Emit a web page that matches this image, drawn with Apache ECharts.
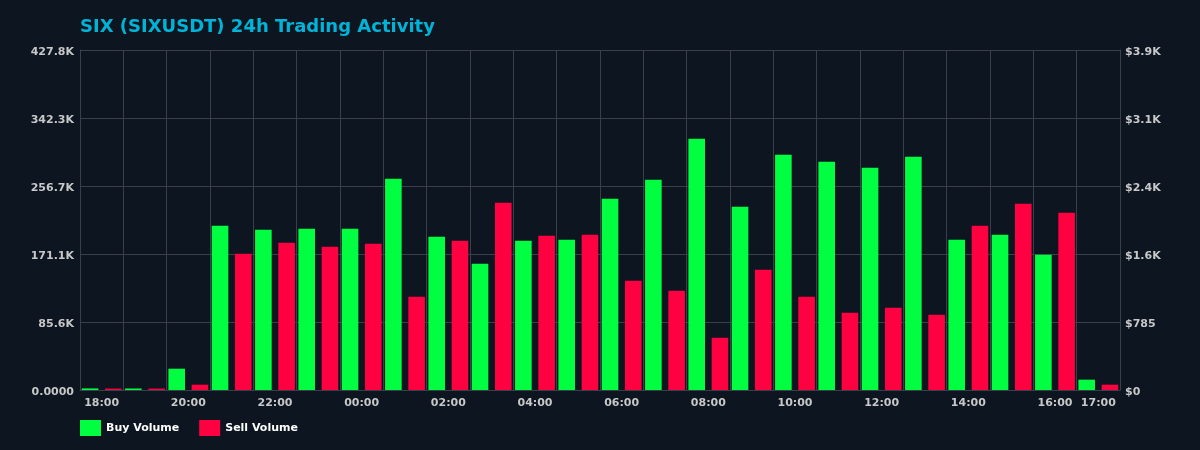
<!DOCTYPE html>
<html lang="en">

<head>
  <meta charset="UTF-8">
  <title>SIX 24h Trading Activity</title>
  <style>
    html, body {
      margin: 0;
      padding: 0;
      background: #0c1520;
    }
    #chart {
      width: 1200px;
      height: 450px;
    }
  </style>
</head>

<body>
  <div id="chart"></div>
  <script src="https://cdn.jsdelivr.net/npm/echarts@6/dist/echarts.min.js"></script>
  <script>
    // hourly buckets, 18:00 yesterday -> 17:00 today
    var hours = ['18:00', '19:00', '20:00', '21:00', '22:00', '23:00', '00:00', '01:00',
      '02:00', '03:00', '04:00', '05:00', '06:00', '07:00', '08:00', '09:00',
      '10:00', '11:00', '12:00', '13:00', '14:00', '15:00', '16:00', '17:00'];

    // volumes in SIX
    var buyVolume = [2000, 1900, 26800, 206800, 201700, 203000, 203000, 265900,
      192900, 159000, 187900, 189200, 240700, 264600, 316200, 230700,
      296100, 287300, 279700, 293600, 189200, 195400, 170300, 13000];
    var sellVolume = [1800, 1800, 6700, 171500, 185400, 180300, 184100, 117400,
      187900, 235700, 194200, 195400, 137600, 125000, 65800, 151400,
      117400, 97300, 103600, 94800, 206800, 234400, 223100, 6700];

    var leftMax = 427830;
    var rightMax = 3925;

    var chart = echarts.init(document.getElementById('chart'));

    var axisText = {
      color: '#c8c8c8',
      fontFamily: 'DejaVu Sans',
      fontWeight: 'bold',
      fontSize: 11
    };

    // nudges y labels a couple px down, like the original
    var yRich = {
      t: {
        color: '#c8c8c8',
        fontFamily: 'DejaVu Sans',
        fontWeight: 'bold',
        fontSize: 11,
        padding: [4, 0, 0, 0]
      }
    };

    var option = {
      backgroundColor: '#0c1520',
      animation: false,
      title: {
        text: 'SIX (SIXUSDT) 24h Trading Activity',
        left: 75,
        top: 13,
        textStyle: {
          color: '#00b4d8',
          fontFamily: 'DejaVu Sans',
          fontWeight: 'bold',
          fontSize: 18
        }
      },
      legend: {
        left: 75,
        bottom: 9,
        itemWidth: 21,
        itemHeight: 16,
        itemGap: 20,
        icon: 'rect',
        textStyle: {
          color: '#ffffff',
          fontFamily: 'DejaVu Sans',
          fontWeight: 'bold',
          fontSize: 11
        },
        data: ['Buy Volume', 'Sell Volume']
      },
      grid: {
        left: 80,
        right: 80,
        top: 50,
        bottom: 60
      },
      xAxis: {
        type: 'category',
        data: hours,
        boundaryGap: true,
        axisLine: { lineStyle: { color: '#3a404a' } },
        axisTick: { show: false },
        splitLine: { show: true, lineStyle: { color: '#3a404a', width: 1 } },
        axisLabel: Object.assign({
          margin: 8,
          interval: 0,
          formatter: function (value, index) {
            if (index % 2 === 0 || index === hours.length - 1) return value;
            return '';
          }
        }, axisText)
      },
      yAxis: [{
        type: 'value',
        min: 0,
        max: leftMax,
        interval: leftMax / 5,
        axisLine: { show: true, lineStyle: { color: '#3a404a' } },
        axisTick: { show: false },
        splitLine: { lineStyle: { color: '#3a404a', width: 1 } },
        axisLabel: Object.assign({
          margin: 6,
          rich: yRich,
          formatter: function (v) {
            if (v === 0) return '{t|0.0000}';
            return '{t|' + (v / 1000).toFixed(1) + 'K}';
          }
        }, axisText)
      }, {
        type: 'value',
        min: 0,
        max: rightMax,
        interval: rightMax / 5,
        position: 'right',
        axisLine: { show: true, lineStyle: { color: '#3a404a' } },
        axisTick: { show: false },
        splitLine: { show: false },
        axisLabel: Object.assign({
          margin: 5,
          rich: yRich,
          formatter: function (v) {
            if (v >= 1000) return '{t|$' + (v / 1000).toFixed(1) + 'K}';
            return '{t|$' + Math.round(v) + '}';
          }
        }, axisText)
      }],
      series: [{
        name: 'Buy Volume',
        type: 'bar',
        data: buyVolume,
        barCategoryGap: '8%',
        barGap: '40%',
        itemStyle: { color: '#00ff41' }
      }, {
        name: 'Sell Volume',
        type: 'bar',
        data: sellVolume,
        barCategoryGap: '8%',
        barGap: '40%',
        itemStyle: { color: '#ff0040' }
      }]
    };

    chart.setOption(option);
  </script>
</body>

</html>
